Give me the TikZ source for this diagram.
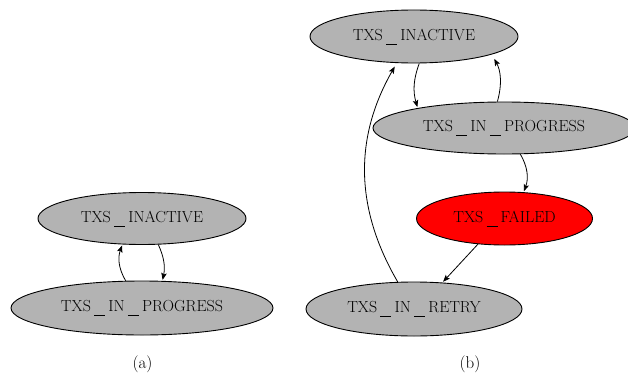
\documentclass[tikz,border=0pt]{standalone}
\usetikzlibrary{shapes.geometric,arrows.meta}
\definecolor{nodegray}{RGB}{179,179,179}
\definecolor{nodered}{RGB}{255,0,0}
\newcommand{\usc}{\kern3.2pt\rule[-4.2pt]{11pt}{0.5pt}\kern3.2pt}
\tikzset{
  state/.style={ellipse, draw=black, line width=0.9pt, fill=nodegray, inner sep=0pt,
    font=\fontsize{16}{19}\selectfont},
  edge/.style={line width=0.8pt, shorten >=1pt,
    -{Stealth[length=7pt,width=5.5pt,inset=1.5pt]}},
  caption/.style={font=\fontsize{17}{20}\selectfont, inner sep=0pt}
}
\begin{document}
\begin{tikzpicture}[x=1pt,y=1pt]
\useasboundingbox (0,0) rectangle (628,373);
% (a)
\node[state, minimum width=208pt, minimum height=52pt] (aia) at (142,154.5) {TXS\usc INACTIVE};
\node[state, minimum width=262pt, minimum height=54pt] (aip) at (142,65) {TXS\usc IN\usc PROGRESS};
\node[caption] (capa) at (142.5,9) {(a)};
% (b)
\node[state, minimum width=208pt, minimum height=53pt] (bia) at (414,336.5) {TXS\usc INACTIVE};
\node[state, minimum width=262pt, minimum height=52pt] (bip) at (504,245) {TXS\usc IN\usc PROGRESS};
\node[state, fill=nodered, minimum width=176pt, minimum height=53pt] (bf) at (504.5,154.5) {TXS\usc FAILED};
\node[state, minimum width=216pt, minimum height=54pt] (br) at (414,64) {TXS\usc IN\usc RETRY};
\node[caption] (capb) at (470,9) {(b)};
% edges (a)
\draw[edge] (aip.121) to[bend left=25] (aia.233);
\draw[edge] (aia.302) to[bend left=18] (aip.53);
% edges (b)
\draw[edge] (bia.281) to[bend right=18] (bip.167);
\draw[edge, shorten >=5pt] (bip.104) to[bend right=22] (bia.347);
\draw[edge] (bip.302) to[bend left=25] (bf.54);
\draw[edge] (bf.224) -- (br.43);
\draw[edge, shorten >=4pt] (br.121) to[bend left=30] (bia.237);
\end{tikzpicture}
\end{document}
